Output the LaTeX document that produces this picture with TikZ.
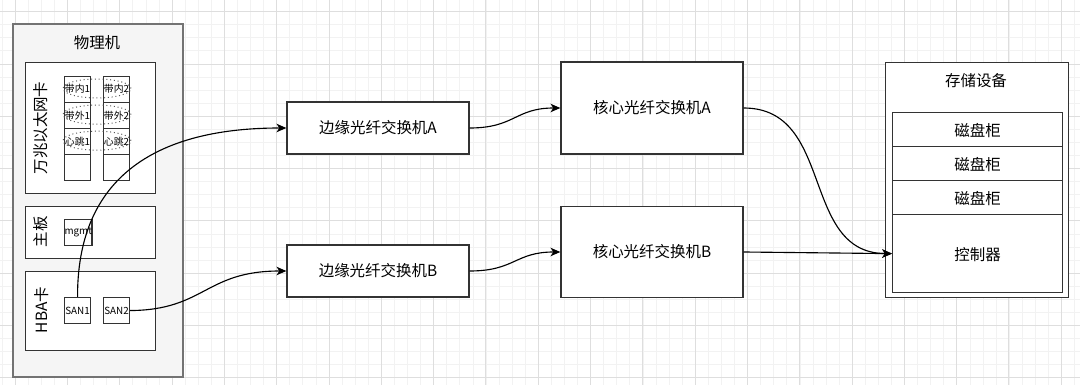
\documentclass[tikz,border=0pt]{standalone}
\usepackage{fontspec}
\setmainfont{Noto Sans CJK SC}
\usetikzlibrary{arrows.meta,shapes.geometric}

\newcommand{\pw}[1]{#1*0.025cm}

\tikzset{
	box/.style={draw=black!80, line width=0.9pt, fill=white, inner sep=0pt, anchor=north west},
	host/.style={draw=black!55, line width=1.1pt, fill=black!4, inner sep=0pt, anchor=north west},
	port/.style={draw=black!80, line width=0.8pt, fill=white, inner sep=0pt, anchor=north west,
		minimum width=\pw{26}, minimum height=\pw{26}, font=\fontsize{7}{8}\selectfont},
	ring/.style={ellipse, draw=black!65, dotted, line width=0.7pt, inner sep=0pt,
		minimum width=\pw{68}, minimum height=\pw{19}},
	switchbox/.style={draw=black!80, line width=0.9pt, fill=white, inner sep=0pt,
		minimum width=\pw{182}, font=\fontsize{11}{13}\selectfont},
	shelf/.style={box, minimum width=\pw{170}, font=\fontsize{11}{13}\selectfont, text depth=0pt},
	lbl/.style={font=\fontsize{11}{13}\selectfont},
	link/.style={line width=0.8pt, -{Stealth[length=7pt,width=6pt,inset=2pt]}},
	gridminor/.style={draw=black!5, line width=0.4pt},
	gridmajor/.style={draw=black!13, line width=0.4pt}
}

\begin{document}
\begin{tikzpicture}[x=0.025cm, y=-0.025cm]
%
	\useasboundingbox (0,0) rectangle (1080,385);
	\fill[white] (0,0) rectangle (1080,385);
	\foreach \i in {0,...,82} \draw[gridminor] ({1.9+\i*13.08},0) -- ({1.9+\i*13.08},385);
	\foreach \i in {0,...,29} \draw[gridminor] (0,{-1.6+\i*13.08}) -- (1080,{-1.6+\i*13.08});
	\foreach \i in {0,...,20} \draw[gridmajor] ({15+\i*52.3},0) -- ({15+\i*52.3},385);
	\foreach \i in {0,...,7} \draw[gridmajor] (0,{11.5+\i*52.3}) -- (1080,{11.5+\i*52.3});
%
	% physical host
	\node[host, minimum width=\pw{170}, minimum height=\pw{353}] (host) at (12,23) {};
	\node[lbl] (hosttitle) at (97,43) {物理机};
%
	\node[box, minimum width=\pw{130}, minimum height=\pw{131}] (nic) at (25,62) {};
	\node[lbl, rotate=90] (niclabel) at (41,128) {万兆以太网卡};
	\foreach \ta/\tb [count=\k from 0] in {带内1/带内2, 带外1/带外2, 心跳1/心跳2, {}/{}} {
		\node[port] (pa\k) at (64,{75.7+\k*26.1}) {\ta};
		\node[port] (pb\k) at (103,{75.7+\k*26.1}) {\tb};
	}
	\foreach \k in {0,1,2}
		\node[ring] (ring\k) at (97,{88.5+\k*26.1}) {};
%
	\node[box, minimum width=\pw{130}, minimum height=\pw{52}] (board) at (25,206) {};
	\node[lbl, rotate=90] (boardlabel) at (41,232) {主板};
	\node[port] (mgmt) at (64,219) {mgmt};
%
	\node[box, minimum width=\pw{130}, minimum height=\pw{79}] (hba) at (25,271) {};
	\node[lbl, rotate=90] (hbalabel) at (42,310) {HBA卡};
	\node[port] (san1) at (64,297) {SAN1};
	\node[port] (san2) at (103,297) {SAN2};
%
	% switches
	\node[switchbox, minimum height=\pw{52}] (edgeA) at (378,128) {边缘光纤交换机A};
	\node[switchbox, minimum height=\pw{52}] (edgeB) at (378,271) {边缘光纤交换机B};
	\node[switchbox, minimum height=\pw{92}] (coreA) at (652,108) {核心光纤交换机A};
	\node[switchbox, minimum height=\pw{91}] (coreB) at (652,252) {核心光纤交换机B};
%
	% storage
	\node[box, minimum width=\pw{183}, minimum height=\pw{235}] (store) at (885,62) {};
	\node[lbl] (storetitle) at (976,81) {存储设备};
	\node[shelf, minimum height=\pw{34}] (shelf1) at (892,112) {磁盘柜};
	\node[shelf, minimum height=\pw{34}] (shelf2) at (892,146) {磁盘柜};
	\node[shelf, minimum height=\pw{34}] (shelf3) at (892,180) {磁盘柜};
	\node[shelf, minimum height=\pw{78}] (ctrl) at (892,214) {控制器};
%
	\draw[link] (san1.north) .. controls (77,160) and (180,128) .. (edgeA.west);
	\draw[link] (san2.east) .. controls (205,310) and (205,271) .. (edgeB.west);
	\draw[link] (edgeA.east) .. controls (515,128) and (515,108) .. (coreA.west);
	\draw[link] (edgeB.east) .. controls (515,271) and (515,252) .. (coreB.west);
	\draw[link] (coreA.east) .. controls (835,108) and (800,253) .. (ctrl.west);
	\draw[link] (coreB.east) -- (ctrl.west);
\end{tikzpicture}
\end{document}
